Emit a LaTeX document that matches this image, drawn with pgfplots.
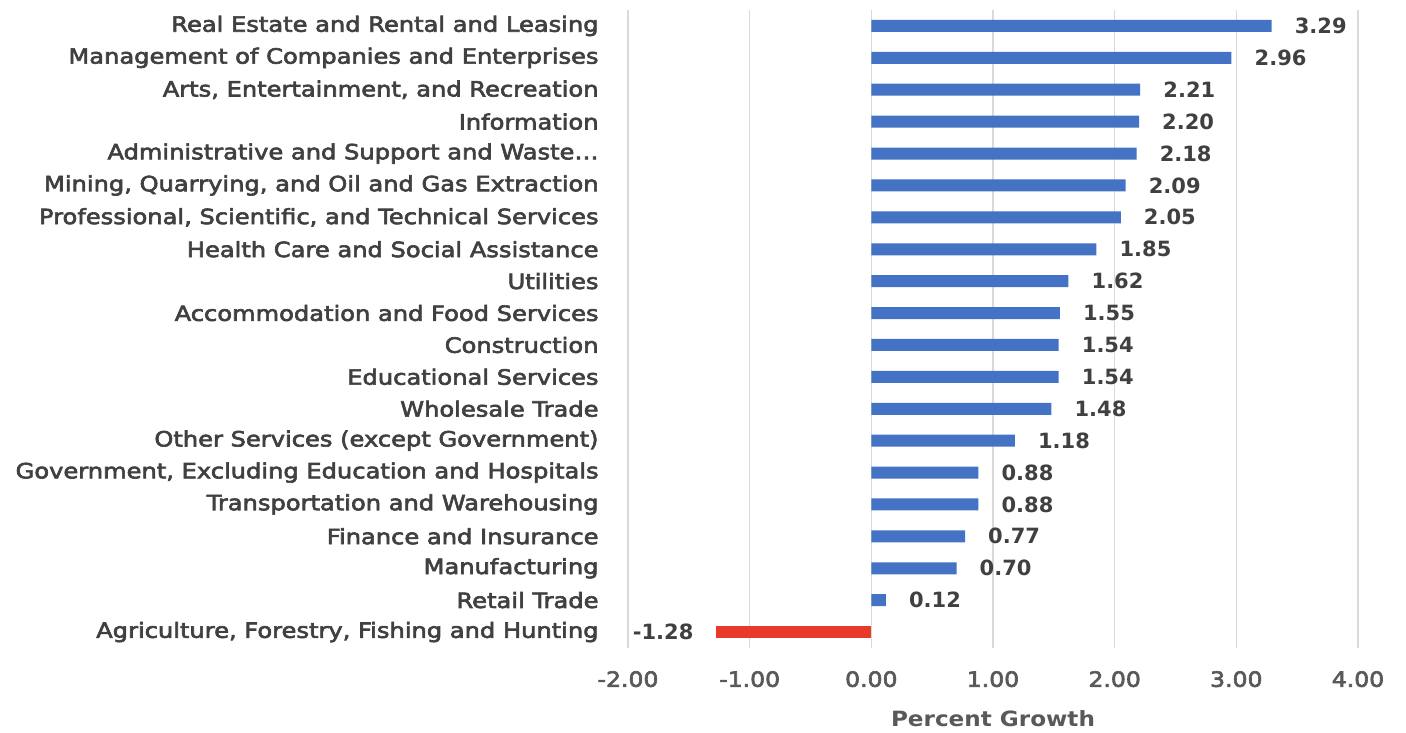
\documentclass[border=0pt]{standalone}
\usepackage{pgfplots}
\pgfplotsset{compat=1.18}
\usepackage{fontspec}
\setmainfont{DejaVu Sans}[FakeStretch=1.12]
\newfontfamily\catfont{DejaVu Sans}[FakeStretch=1.15, FakeBold=3]
\newfontfamily\tickfont{DejaVu Sans}[FakeStretch=1.12, FakeBold=3]
\newfontfamily\valfont{DejaVu Sans Bold}
\newfontfamily\xlabfont{DejaVu Sans Bold}[FakeStretch=1.1]
\definecolor{barblue}{HTML}{4472C4}
\definecolor{barred}{RGB}{232,57,42}
\definecolor{txtdark}{HTML}{404040}
\definecolor{txtgray}{HTML}{595959}
\definecolor{gridc}{HTML}{D9D9D9}
\begin{document}
\begin{tikzpicture}
\useasboundingbox (0,0) rectangle (1406pt,732pt);
\begin{axis}[
  at={(628pt,84pt)}, anchor=south west,
  scale only axis, width=730pt, height=638pt,
  xmin=-2, xmax=4, ymin=-0.5, ymax=19.5,
  xbar, bar width=12pt, bar shift=0pt,
  axis line style={draw=none}, tick style={draw=none},
  xmajorgrids, grid style={gridc, line width=1.2pt},
  xtick={-2,-1,0,1,2,3,4},
  /pgf/number format/assume math mode=true,
  xticklabel={\pgfmathprintnumber[fixed,fixed zerofill,precision=2]{\tick}},
  xticklabel style={font=\tickfont\fontsize{21}{24}\selectfont, text=txtgray, inner sep=0pt, yshift=-23pt},
  ytick={0,1,2,3,4,5,6,7,8,9,10,11,12,13,14,15,16,17,18,19},
  yticklabels={{Agriculture, Forestry, Fishing and Hunting},{Retail Trade},{Manufacturing},{Finance and Insurance},{Transportation and Warehousing},{Government, Excluding Education and Hospitals},{Other Services (except Government)},{Wholesale Trade},{Educational Services},{Construction},{Accommodation and Food Services},{Utilities},{Health Care and Social Assistance},{Professional, Scientific, and Technical Services},{Mining, Quarrying, and Oil and Gas Extraction},{Administrative and Support and Waste\ldots},{Information},{Arts, Entertainment, and Recreation},{Management of Companies and Enterprises},{Real Estate and Rental and Leasing}},
  yticklabel style={font=\catfont\fontsize{21}{24}\selectfont, text=txtdark, inner sep=0pt, xshift=-25pt, anchor=east},
  xlabel={Percent Growth},
  xlabel style={at={(axis description cs:0.5,0)}, anchor=center, yshift=-71pt, font=\xlabfont\fontsize{21}{24}\selectfont, text=txtgray},
  nodes near coords={\pgfmathprintnumber[fixed,fixed zerofill,precision=2]{\pgfplotspointmeta}},
  every node near coord/.append style={font=\valfont\fontsize{21}{24}\selectfont, text=txtdark},
]
\addplot[fill=barblue, draw=none, nodes near coords style={anchor=west, xshift=23pt, inner sep=0pt}] coordinates {
(0.12,1) (0.70,2) (0.77,3) (0.88,4) (0.88,5) (1.18,6) (1.48,7) (1.54,8) (1.54,9) (1.55,10)
(1.62,11) (1.85,12) (2.05,13) (2.09,14) (2.18,15) (2.20,16) (2.21,17) (2.96,18) (3.29,19)
};
\addplot[fill=barred, draw=none, nodes near coords style={anchor=east, xshift=-22pt, inner sep=0pt}] coordinates {
(-1.28,0)
};
\end{axis}
\end{tikzpicture}
\end{document}
